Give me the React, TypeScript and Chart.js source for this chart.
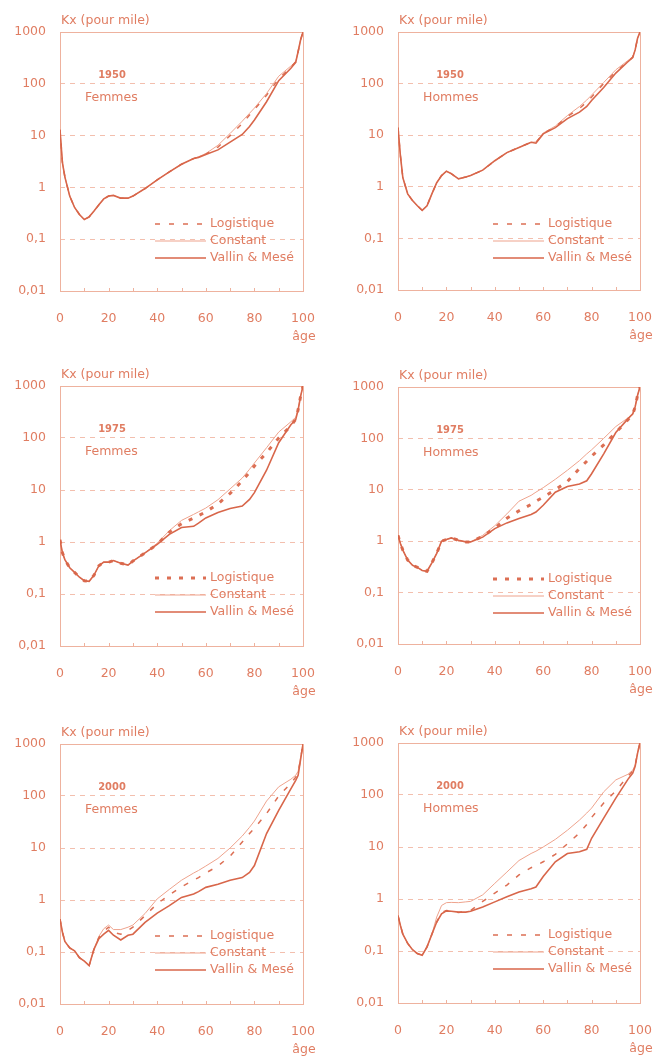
import React, { useEffect, useRef } from "react";
import { Chart, registerables } from "chart.js";

Chart.register(...registerables);

// ---------- data ----------
const AGES = [0, 1, 2, 4, 6, 8, 10, 12, 14, 16, 18, 20, 22, 25, 28, 30, 35, 40, 45, 50, 55, 57, 60, 65, 70, 75, 78, 80, 85, 90, 95, 97, 98, 99, 100];

const Y_TICKS = [0.01, 0.1, 1, 10, 100, 1000];
const Y_TICK_LABELS = ["0,01", "0,1", "1", "10", "100", "1000"];
const X_TICKS = [0, 20, 40, 60, 80, 100];
const X_MINOR_TICKS = [10, 20, 30, 40, 50, 60, 70, 80, 90];
const SERIES_NAMES = ["Logistique", "Constant", "Vallin & Mesé"];
const Y_TITLE = "Kx (pour mile)";
const X_TITLE = "âge";

// 1950 Femmes
const F1950_LOGISTIQUE = [13, 3.0, 1.6, 0.68, 0.41, 0.30, 0.24, 0.27, 0.35, 0.46, 0.6, 0.68, 0.7, 0.62, 0.62, 0.68, 0.95, 1.4, 2.0, 2.8, 3.6, 3.85, 4.4, 6.0, 10, 17, 25, 32, 60, 125, 210, 265, 420, 700, 1000];
const F1950_CONSTANT = [13, 3.0, 1.6, 0.68, 0.41, 0.30, 0.24, 0.27, 0.35, 0.46, 0.6, 0.68, 0.7, 0.62, 0.62, 0.68, 0.95, 1.4, 2.0, 2.8, 3.6, 3.9, 4.5, 6.5, 11, 19, 27, 34, 65, 140, 220, 270, 420, 700, 1000];
const F1950_VALLIN = [13, 3.0, 1.6, 0.68, 0.41, 0.30, 0.24, 0.27, 0.35, 0.46, 0.6, 0.68, 0.7, 0.62, 0.62, 0.68, 0.95, 1.4, 2.0, 2.8, 3.6, 3.8, 4.3, 5.3, 7.5, 10.5, 15, 20, 45, 115, 200, 260, 420, 700, 1000];

// 1950 Hommes
const H1950_LOGISTIQUE = [14, 4, 1.5, 0.73, 0.54, 0.43, 0.35, 0.43, 0.73, 1.2, 1.65, 2.0, 1.8, 1.43, 1.55, 1.65, 2.1, 3.2, 4.6, 5.8, 7.3, 7.2, 10.8, 14.5, 23, 33, 44, 55, 100, 170, 270, 325, 450, 760, 1000];
const H1950_CONSTANT = [14, 4, 1.5, 0.73, 0.54, 0.43, 0.35, 0.43, 0.73, 1.2, 1.65, 2.0, 1.8, 1.43, 1.55, 1.65, 2.1, 3.2, 4.6, 5.8, 7.3, 7.4, 11, 15, 24, 36, 48, 60, 105, 185, 280, 330, 450, 760, 1000];
const H1950_VALLIN = [14, 4, 1.5, 0.73, 0.54, 0.43, 0.35, 0.43, 0.73, 1.2, 1.65, 2.0, 1.8, 1.43, 1.55, 1.65, 2.1, 3.2, 4.6, 5.8, 7.3, 7.0, 10.6, 14, 21, 28, 36, 47, 84, 160, 265, 320, 450, 760, 1000];

// 1975 Femmes
const F1975_LOGISTIQUE = [1.1, 0.62, 0.46, 0.32, 0.26, 0.21, 0.18, 0.175, 0.23, 0.35, 0.41, 0.41, 0.44, 0.39, 0.36, 0.43, 0.62, 0.9, 1.55, 2.25, 2.9, 3.2, 3.8, 5.4, 8.6, 15, 22, 29, 52, 100, 170, 230, 350, 630, 1000];
const F1975_CONSTANT = [1.1, 0.62, 0.46, 0.32, 0.26, 0.21, 0.18, 0.175, 0.23, 0.35, 0.41, 0.41, 0.44, 0.39, 0.36, 0.43, 0.62, 0.95, 1.65, 2.6, 3.4, 3.8, 4.5, 6.5, 10.5, 17, 25, 33, 65, 130, 205, 250, 360, 640, 1000];
const F1975_VALLIN = [1.1, 0.62, 0.46, 0.32, 0.26, 0.21, 0.18, 0.175, 0.23, 0.35, 0.41, 0.41, 0.44, 0.39, 0.36, 0.43, 0.62, 0.9, 1.4, 1.9, 2.0, 2.3, 2.9, 3.7, 4.4, 4.9, 6.6, 8.9, 24, 81, 180, 225, 350, 630, 1000];

// 1975 Hommes
const H1975_LOGISTIQUE = [1.3, 0.9, 0.67, 0.43, 0.34, 0.31, 0.27, 0.26, 0.38, 0.58, 1.0, 1.08, 1.16, 1.04, 0.97, 0.97, 1.25, 1.8, 2.8, 3.9, 5.2, 6.0, 7.2, 10, 14.5, 26, 36, 45, 75, 130, 230, 295, 410, 690, 1000];
const H1975_CONSTANT = [1.3, 0.9, 0.67, 0.43, 0.34, 0.31, 0.27, 0.26, 0.38, 0.58, 1.0, 1.08, 1.16, 1.04, 0.97, 0.97, 1.3, 2.0, 3.4, 6.0, 7.8, 9, 11, 16, 24, 37, 50, 60, 100, 170, 250, 290, 420, 700, 1000];
const H1975_VALLIN = [1.3, 0.9, 0.67, 0.43, 0.34, 0.31, 0.27, 0.26, 0.38, 0.58, 1.0, 1.08, 1.16, 1.04, 0.97, 0.97, 1.2, 1.76, 2.27, 2.75, 3.3, 3.7, 5, 9, 11.6, 13, 15, 20.5, 50, 130, 240, 300, 410, 690, 1000];

// 2000 Femmes
const F2000_LOGISTIQUE = [0.43, 0.24, 0.16, 0.12, 0.105, 0.078, 0.067, 0.055, 0.114, 0.19, 0.25, 0.3, 0.24, 0.22, 0.26, 0.3, 0.5, 0.85, 1.25, 1.8, 2.4, 2.7, 3.3, 4.5, 7, 13, 19, 24, 46, 100, 175, 230, 280, 520, 1000];
const F2000_CONSTANT = [0.43, 0.24, 0.16, 0.12, 0.105, 0.078, 0.067, 0.055, 0.114, 0.2, 0.28, 0.33, 0.27, 0.27, 0.3, 0.33, 0.55, 1.05, 1.6, 2.4, 3.3, 3.7, 4.5, 6.3, 10, 17, 25, 33, 80, 150, 210, 250, 300, 550, 1000];
const F2000_VALLIN = [0.43, 0.24, 0.16, 0.12, 0.105, 0.078, 0.067, 0.055, 0.114, 0.18, 0.22, 0.26, 0.21, 0.17, 0.21, 0.22, 0.37, 0.56, 0.78, 1.12, 1.3, 1.45, 1.75, 2.0, 2.4, 2.7, 3.4, 4.6, 19, 53, 137, 200, 250, 500, 1000];

// 2000 Hommes
const H2000_LOGISTIQUE = [0.48, 0.31, 0.21, 0.14, 0.106, 0.089, 0.083, 0.12, 0.21, 0.36, 0.55, 0.6, 0.58, 0.55, 0.57, 0.6, 0.9, 1.3, 1.85, 2.9, 4.0, 4.4, 5.2, 7.2, 11.5, 18.6, 27, 37, 70, 120, 230, 290, 370, 650, 1000];
const H2000_CONSTANT = [0.48, 0.31, 0.21, 0.14, 0.106, 0.089, 0.083, 0.12, 0.21, 0.45, 0.75, 0.85, 0.86, 0.85, 0.88, 0.9, 1.2, 2.0, 3.3, 5.5, 7.5, 8.3, 10, 14, 21, 33, 45, 56, 115, 195, 250, 300, 380, 660, 1000];
const H2000_VALLIN = [0.48, 0.31, 0.21, 0.14, 0.106, 0.089, 0.083, 0.12, 0.21, 0.36, 0.52, 0.59, 0.58, 0.56, 0.56, 0.58, 0.7, 0.88, 1.1, 1.36, 1.58, 1.7, 2.7, 5.2, 7.5, 8.1, 9.0, 14.7, 36, 87, 200, 265, 355, 640, 1000];

// ---------- styles ----------
const TEXT = "#e07d62";
const GRID = "#f3bfae";
const FRAME = "#eeb29e";
const C_VALLIN = "#d8664a";
const C_CONSTANT = "#eea38d";
const C_LOGIST = "#dc6f54";
const FONT = "'DejaVu Sans', sans-serif";

type PanelCfg = {
  year: string;
  sex: string;
  logistique: number[];
  constant: number[];
  vallin: number[];
  bold: boolean;
  left: number;
  top: number;
  right: number;
  bottom: number;
  col: number;
};

const PANELS: PanelCfg[] = [
  { year: "1950", sex: "Femmes", logistique: F1950_LOGISTIQUE, constant: F1950_CONSTANT, vallin: F1950_VALLIN, bold: false, left: 60, top: 32, right: 303, bottom: 291, col: 0 },
  { year: "1950", sex: "Hommes", logistique: H1950_LOGISTIQUE, constant: H1950_CONSTANT, vallin: H1950_VALLIN, bold: false, left: 398, top: 32, right: 640, bottom: 290, col: 1 },
  { year: "1975", sex: "Femmes", logistique: F1975_LOGISTIQUE, constant: F1975_CONSTANT, vallin: F1975_VALLIN, bold: true, left: 60, top: 386, right: 303, bottom: 646, col: 0 },
  { year: "1975", sex: "Hommes", logistique: H1975_LOGISTIQUE, constant: H1975_CONSTANT, vallin: H1975_VALLIN, bold: true, left: 398, top: 387, right: 640, bottom: 644, col: 1 },
  { year: "2000", sex: "Femmes", logistique: F2000_LOGISTIQUE, constant: F2000_CONSTANT, vallin: F2000_VALLIN, bold: false, left: 60, top: 744, right: 303, bottom: 1004, col: 0 },
  { year: "2000", sex: "Hommes", logistique: H2000_LOGISTIQUE, constant: H2000_CONSTANT, vallin: H2000_VALLIN, bold: false, left: 398, top: 743, right: 640, bottom: 1003, col: 1 },
];

function toPoints(vals: number[]) {
  return AGES.map((a, i) => ({ x: a, y: vals[i] }));
}

function Panel({ cfg }: { cfg: PanelCfg }) {
  const ref = useRef<HTMLCanvasElement | null>(null);
  const cx = cfg.left - 60;
  const cy = cfg.top - 32;
  const w = cfg.col === 0 ? 338 : 655 - cx;
  const h = cfg.bottom - cfg.top + 92;
  const padRight = w - (cfg.right - cx);

  useEffect(() => {
    const lDash = cfg.bold ? [4, 8] : [5, 9];
    const lWidth = cfg.bold ? 3 : 1.5;

    const decor = {
      id: "decor",
      beforeDatasetsDraw(chart: any) {
        const { ctx, chartArea: a } = chart;
        ctx.save();
        ctx.strokeStyle = FRAME;
        ctx.lineWidth = 1;
        ctx.strokeRect(a.left + 0.5, a.top + 0.5, a.right - a.left, a.bottom - a.top);
        const xs = chart.scales.x;
        X_MINOR_TICKS.forEach((v) => {
          const px = Math.round(xs.getPixelForValue(v)) + 0.5;
          ctx.beginPath();
          ctx.moveTo(px, a.bottom);
          ctx.lineTo(px, a.bottom - 3);
          ctx.stroke();
        });
        ctx.restore();
      },
      afterDraw(chart: any) {
        const { ctx, chartArea: a } = chart;
        ctx.save();
        ctx.fillStyle = TEXT;
        ctx.textBaseline = "middle";
        // axis titles
        ctx.font = `12.5px ${FONT}`;
        ctx.textAlign = "left";
        ctx.fillText(Y_TITLE, a.left + 1, a.top - 11);
        ctx.textAlign = "center";
        ctx.fillText(X_TITLE, a.right + 1, a.bottom + 46);
        // year / sex
        ctx.font = `bold 11px 'DejaVu Sans Condensed', ${FONT}`;
        ctx.fillText(cfg.year, a.left + 52, a.top + 43);
        ctx.font = `12.5px ${FONT}`;
        ctx.textAlign = "left";
        ctx.fillText(cfg.sex, a.left + 25, a.top + 66);
        // legend
        const rows = [a.top + 192, a.top + 209, a.top + 226];
        const x0 = a.left + 95;
        const x1 = a.left + 146;
        const styles = [
          { color: C_LOGIST, width: lWidth, dash: lDash },
          { color: C_CONSTANT, width: 1, dash: [] as number[] },
          { color: C_VALLIN, width: 1.6, dash: [] as number[] },
        ];
        styles.forEach((s, i) => {
          ctx.strokeStyle = s.color;
          ctx.lineWidth = s.width;
          ctx.setLineDash(s.dash);
          ctx.beginPath();
          ctx.moveTo(x0, rows[i]);
          ctx.lineTo(x1, rows[i]);
          ctx.stroke();
          ctx.setLineDash([]);
          ctx.fillText(SERIES_NAMES[i], a.left + 150, rows[i]);
        });
        ctx.restore();
      },
    };

    const chart = new Chart(ref.current as HTMLCanvasElement, {
      type: "line",
      data: {
        datasets: [
          { label: SERIES_NAMES[2], data: toPoints(cfg.vallin), borderColor: C_VALLIN, borderWidth: 1.6, pointRadius: 0, tension: 0, fill: false },
          { label: SERIES_NAMES[0], data: toPoints(cfg.logistique), borderColor: C_LOGIST, borderWidth: lWidth, borderDash: lDash, pointRadius: 0, tension: 0, fill: false },
          { label: SERIES_NAMES[1], data: toPoints(cfg.constant), borderColor: C_CONSTANT, borderWidth: 1, pointRadius: 0, tension: 0, fill: false },
        ],
      },
      options: {
        animation: false,
        responsive: false,
        maintainAspectRatio: false,
        devicePixelRatio: 1,
        layout: { padding: { left: 0, top: 32, right: padRight, bottom: 0 } },
        plugins: { legend: { display: false }, tooltip: { enabled: false }, title: { display: false } },
        scales: {
          x: {
            type: "linear",
            min: 0,
            max: 100,
            afterBuildTicks: (s: any) => {
              s.ticks = X_TICKS.map((v) => ({ value: v }));
            },
            afterFit: (s: any) => {
              s.height = 60;
              s.paddingLeft = 0;
              s.paddingRight = 0;
            },
            ticks: { color: TEXT, font: { family: FONT, size: 12.5 }, padding: 20, maxRotation: 0, autoSkip: false },
            grid: { display: false, drawTicks: false },
            border: { display: false },
          },
          y: {
            type: "logarithmic",
            min: 0.01,
            max: 1000,
            afterBuildTicks: (s: any) => {
              s.ticks = Y_TICKS.map((v) => ({ value: v }));
            },
            afterFit: (s: any) => {
              s.width = 60;
              s.paddingTop = 0;
              s.paddingBottom = 0;
            },
            ticks: {
              color: TEXT,
              font: { family: FONT, size: 12.5 },
              padding: 14,
              autoSkip: false,
              callback: (v: any) => {
                const i = Y_TICKS.findIndex((t) => Math.abs(t - Number(v)) < 1e-9);
                return i >= 0 ? Y_TICK_LABELS[i] : "";
              },
            },
            grid: {
              drawTicks: false,
              lineWidth: 1,
              color: (c: any) => {
                const v = c.tick ? c.tick.value : null;
                return v === 1000 || v === 0.01 ? "rgba(0,0,0,0)" : GRID;
              },
            },
            border: { display: false, dash: [5, 5] },
          },
        },
      } as any,
      plugins: [decor],
    });
    return () => chart.destroy();
  }, []);

  return (
    <canvas
      ref={ref}
      width={w}
      height={h}
      style={{ position: "absolute", left: cx, top: cy, width: w, height: h }}
    />
  );
}

export default function App() {
  return (
    <div
      style={{
        position: "absolute",
        left: 0,
        top: 0,
        width: 655,
        height: 1056,
        overflow: "hidden",
        background: "#ffffff",
      }}
    >
      {PANELS.map((p, i) => (
        <Panel key={i} cfg={p} />
      ))}
    </div>
  );
}
